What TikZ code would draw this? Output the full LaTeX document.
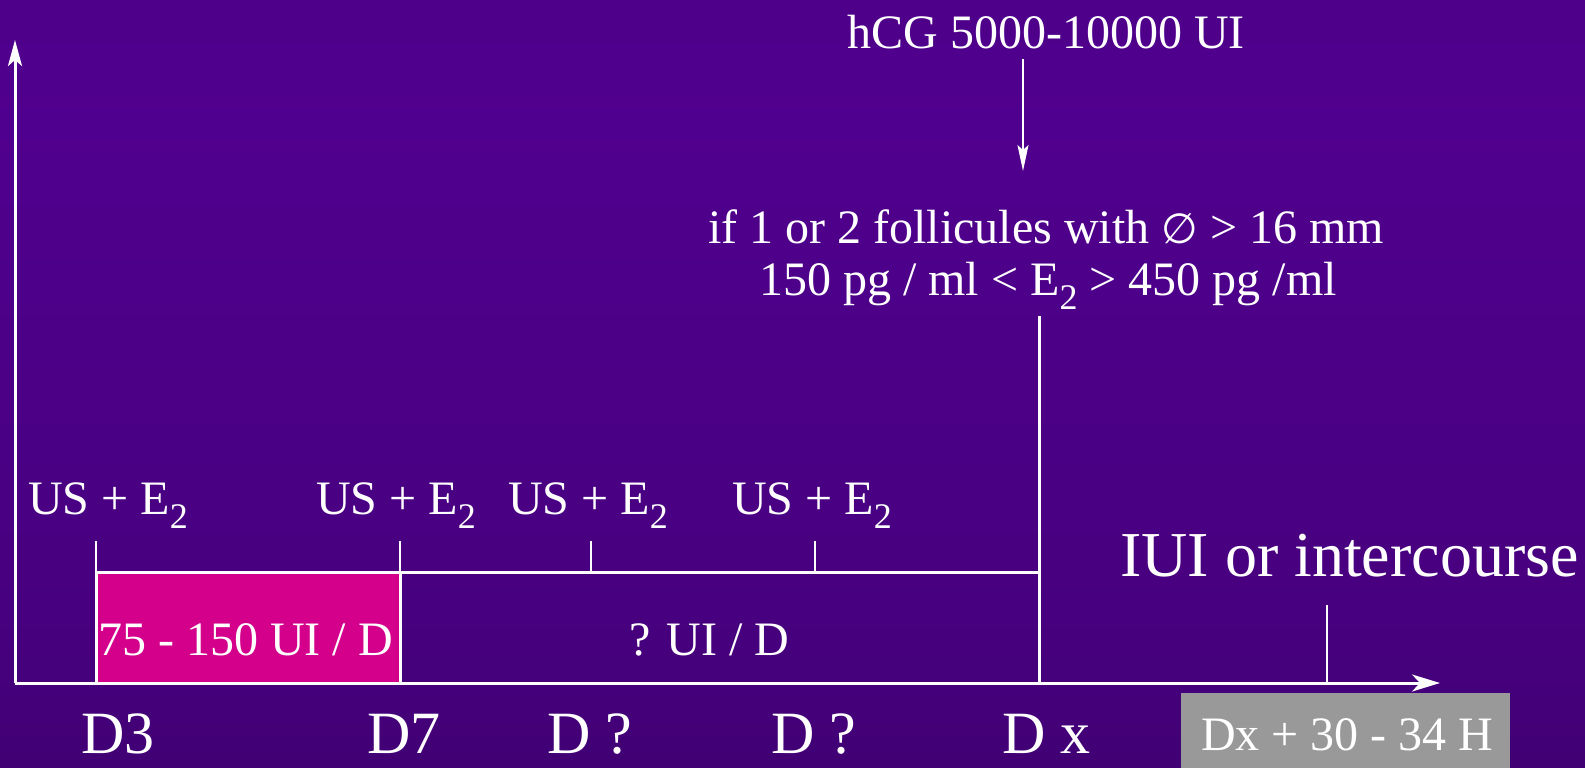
\documentclass[tikz,border=0pt]{standalone}
\usepackage{fontspec}
\usepackage{graphicx}
\setmainfont{Liberation Serif}
\newfontfamily\symfnt{DejaVu Sans}
\usetikzlibrary{arrows.meta}
\definecolor{pinkbox}{HTML}{D4008C}
\definecolor{graybox}{HTML}{999999}
\definecolor{bgtop}{HTML}{47007E}
\definecolor{bgmid}{HTML}{50008E}
\definecolor{bglow}{HTML}{47007F}
\definecolor{bgbot}{HTML}{33005A}
\pgfdeclareverticalshading{bgshade}{100bp}{color(0bp)=(bgbot); color(35bp)=(bglow); color(67bp)=(bgmid); color(100bp)=(bgtop)}
\newcommand{\etwo}{E\raisebox{-0.3em}{\scalebox{0.75}{2}}}
\begin{document}
\begin{tikzpicture}[x=1pt,y=-1pt,
  ln/.style={white, line width=3pt},
  tk/.style={white, line width=2.5pt},
  txt/.style={text=white, inner sep=0pt, font=\fontsize{48}{56}\selectfont},
  dlab/.style={text=white, inner sep=0pt, font=\fontsize{60}{70}\selectfont, anchor=base west},
  big/.style={text=white, inner sep=0pt, font=\fontsize{64}{74}\selectfont, anchor=base west},
]
\useasboundingbox (0,0) rectangle (1585,768);
\shade[shading=bgshade] (0,0) rectangle (1585,768);

% coordinates
\coordinate (origin) at (15,683);
\coordinate (ytop) at (15,40);
\coordinate (xend) at (1440,683);
\coordinate (hA) at (1023,59);
\coordinate (hB) at (1023,171);
\coordinate (vT) at (1039,316);
\coordinate (vB) at (1039,683);
\coordinate (iT) at (1327,605);
\coordinate (iB) at (1327,683);

% boxes
\filldraw[fill=pinkbox, draw=white, line width=3pt] (96,572) rectangle (400,683);
\draw[white, line width=3pt] (400,572) rectangle (1039,683);
\fill[graybox] (1181,693) rectangle (1510,768);

% axes
\draw[ln, -{Stealth[length=26pt,width=14pt,inset=6pt]}] (origin) -- (ytop);
\draw[ln, -{Stealth[length=28pt,width=17pt,inset=8pt]}] (origin) -- (xend);

% ticks
\draw[tk] (96,541) -- (96,572);
\draw[tk] (400,541) -- (400,572);
\draw[tk] (591,541) -- (591,572);
\draw[tk] (815,541) -- (815,572);
\draw[ln] (vT) -- (vB);
\draw[tk] (iT) -- (iB);

% top texts
\node[txt, anchor=base] (hcg) at (1046,48.5) {hCG 5000-10000 UI};
\node[txt, anchor=base] (cond1) at (1046,243) {if 1 or 2 follicules with {\symfnt\fontsize{42}{50}\selectfont ∅} > 16 mm};
\node[txt, anchor=base] (cond2) at (1048,295) {150 pg / ml < \etwo{} > 450 pg /ml};
\draw[white, line width=2pt, -{Stealth[length=26pt,width=11pt,inset=5pt]}] (hA) -- (hB);

% US + E2 labels
\node[txt, anchor=base west] (us1) at (28,514) {US + \etwo};
\node[txt, anchor=base west] (us2) at (316,514) {US + \etwo};
\node[txt, anchor=base west] (us3) at (508,514) {US + \etwo};
\node[txt, anchor=base west] (us4) at (732,514) {US + \etwo};

% doses
\node[txt, anchor=base west] (dose1) at (98,655) {75 - 150 UI / D};
\node[txt, anchor=base west] (dose2) at (629,655) {? UI / D};

% day labels
\node[dlab] (d3) at (81,753) {D3};
\node[dlab] (d7) at (367,753) {D7};
\node[dlab] (dq1) at (547,753) {D ?};
\node[dlab] (dq2) at (771,753) {D ?};
\node[dlab] (dx) at (1002,753) {D x};

% IUI
\node[big] (iui) at (1120,576) {IUI or intercourse};
\node[txt, anchor=base west] (dxh) at (1201,750) {Dx + 30 - 34 H};
\end{tikzpicture}
\end{document}
